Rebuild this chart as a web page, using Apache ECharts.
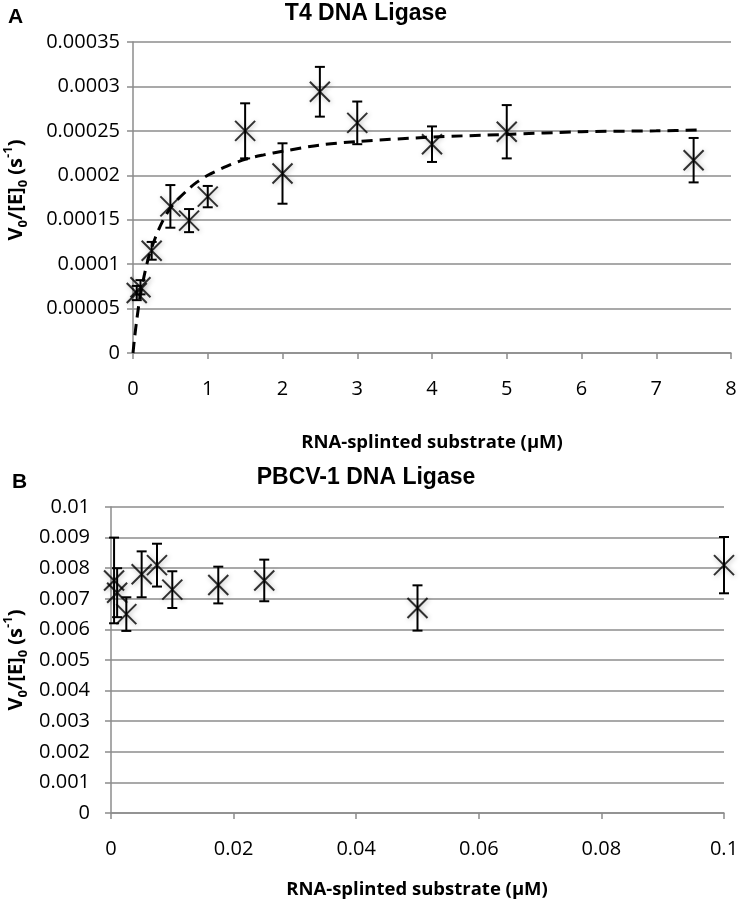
<!DOCTYPE html>
<html><head><meta charset="utf-8">
<script src="https://cdn.jsdelivr.net/npm/echarts@6/dist/echarts.min.js"></script>
<style>html,body{margin:0;padding:0;background:#fff;}#c{width:742px;height:906px;}</style>
</head><body><div id="c"></div>
<script>
// ---- Panel A: T4 DNA Ligase ----
const t4X   = [0.05, 0.1, 0.25, 0.5, 0.75, 1, 1.5, 2, 2.5, 3, 4, 5, 7.5];
const t4Y   = [0.0000675, 0.000074, 0.000115, 0.000165, 0.000149, 0.000176, 0.00025, 0.000202, 0.000294, 0.000259, 0.000235, 0.000249, 0.000217];
const t4Err = [0.000008, 0.000008, 0.00001, 0.000024, 0.000013, 0.000012, 0.000031, 0.000034, 0.000028, 0.000024, 0.00002, 0.00003, 0.000025];
// dashed fit curve
const t4FitX = [0, 0.02, 0.05, 0.1, 0.2, 0.3, 0.4, 0.5, 0.6, 0.75, 0.85, 1, 1.25, 1.5, 1.75, 2, 2.5, 3, 4, 5, 6, 7, 7.6];
const t4FitY = [0, 0.000016, 0.000037, 0.000066, 0.000105, 0.00013, 0.000149, 0.000163, 0.000173, 0.000185, 0.000192, 0.0002, 0.00021, 0.000218, 0.000223, 0.000227, 0.000234, 0.000238, 0.000243, 0.000246, 0.000249, 0.00025, 0.000251];
const t4XTicks = ['0','1','2','3','4','5','6','7','8'];
const t4YTicks = ['0','0.00005','0.0001','0.00015','0.0002','0.00025','0.0003','0.00035'];

// ---- Panel B: PBCV-1 DNA Ligase ----
const pbX   = [0.0005, 0.001, 0.0025, 0.005, 0.0075, 0.01, 0.0175, 0.025, 0.05, 0.1];
const pbY   = [0.0076, 0.0072, 0.0065, 0.0078, 0.0081, 0.0073, 0.00745, 0.0076, 0.0067, 0.0081];
const pbErr = [0.0014, 0.0008, 0.00055, 0.00075, 0.0007, 0.0006, 0.0006, 0.00068, 0.00074, 0.00092];
const pbXTicks = ['0','0.02','0.04','0.06','0.08','0.1'];
const pbYTicks = ['0','0.001','0.002','0.003','0.004','0.005','0.006','0.007','0.008','0.009','0.01'];

const titleA = 'T4 DNA Ligase';
const titleB = 'PBCV-1 DNA Ligase';
const xTitle = 'RNA-splinted substrate (µM)';

const GRID = '#8c8c8c';
const FONT = "'Open Sans', sans-serif";

function xAxisCfg(idx, max, step, ticks, margin) {
  return {
    type: 'value', gridIndex: idx, min: 0, max: max, interval: step,
    axisLine: {show: true, lineStyle: {color: GRID, width: 1.5}},
    axisTick: {show: true, length: 6, lineStyle: {color: GRID, width: 1.5}},
    splitLine: {show: false},
    axisLabel: {color: '#000', fontSize: 20, fontFamily: FONT, margin: margin,
      formatter: v => ticks[Math.round(v / step)]}
  };
}
function yAxisCfg(idx, max, step, ticks, margin) {
  return {
    type: 'value', gridIndex: idx, min: 0, max: max, interval: step,
    axisLine: {show: true, lineStyle: {color: GRID, width: 1.5}},
    axisTick: {show: true, length: 6, lineStyle: {color: GRID, width: 1.5}},
    splitLine: {show: true, lineStyle: {color: GRID, width: 1.5}},
    axisLabel: {color: '#000', fontSize: 20, fontFamily: FONT, margin: margin,
      formatter: v => ticks[Math.round(v / step)]}
  };
}

const markerStyle = {
  color: 'rgba(0,0,0,0)', borderColor: '#000', borderWidth: 2,
  shadowBlur: 5, shadowColor: 'rgba(0,0,0,0.35)', shadowOffsetX: 1, shadowOffsetY: 1
};

function errRender(params, api) {
  const x = api.value(0), y = api.value(1), e = api.value(2);
  const top = api.coord([x, y + e]);
  const bot = api.coord([x, y - e]);
  const w = 5;
  const st = {stroke: '#000', lineWidth: 2};
  return {type: 'group', children: [
    {type: 'line', shape: {x1: top[0], y1: top[1], x2: bot[0], y2: bot[1]}, style: st},
    {type: 'line', shape: {x1: top[0] - w, y1: top[1], x2: top[0] + w, y2: top[1]}, style: st},
    {type: 'line', shape: {x1: bot[0] - w, y1: bot[1], x2: bot[0] + w, y2: bot[1]}, style: st}
  ]};
}

const yTitleRich = {
  b: {fontSize: 20, fontWeight: 'bold', fontFamily: FONT, lineHeight: 28, verticalAlign: 'middle'},
  s: {fontSize: 13, fontWeight: 'bold', fontFamily: FONT, lineHeight: 14, verticalAlign: 'bottom'},
  p: {fontSize: 13, fontWeight: 'bold', fontFamily: FONT, lineHeight: 14, verticalAlign: 'top'}
};
const yTitleText = '{b|V}{s|0}{b|/[E]}{s|0}{b| (s}{p|-1}{b|)}';

const chart = echarts.init(document.getElementById('c'), null, {renderer: 'canvas'});
chart.setOption({
  animation: false,
  backgroundColor: '#fff',
  grid: [
    {left: 133, top: 42, width: 598, height: 311},
    {left: 111, top: 507, width: 613, height: 306}
  ],
  xAxis: [
    xAxisCfg(0, 8, 1, t4XTicks, 26),
    xAxisCfg(1, 0.1, 0.02, pbXTicks, 26)
  ],
  yAxis: [
    yAxisCfg(0, 0.00035, 0.00005, t4YTicks, 13),
    yAxisCfg(1, 0.01, 0.001, pbYTicks, 21)
  ],
  series: [
    {type: 'line', xAxisIndex: 0, yAxisIndex: 0, data: t4FitX.map((x, i) => [x, t4FitY[i]]),
      showSymbol: false, smooth: 0.3,
      lineStyle: {color: '#000', width: 3, type: [11, 7]}, z: 3},
    {type: 'custom', xAxisIndex: 0, yAxisIndex: 0, renderItem: errRender, clip: false,
      data: t4X.map((x, i) => [x, t4Y[i], t4Err[i]]), z: 4},
    {type: 'scatter', xAxisIndex: 0, yAxisIndex: 0, data: t4X.map((x, i) => [x, t4Y[i]]),
      symbol: 'path://M0,0L20,20M20,0L0,20', symbolSize: 20, itemStyle: markerStyle, clip: false, z: 5},
    {type: 'custom', xAxisIndex: 1, yAxisIndex: 1, renderItem: errRender, clip: false,
      data: pbX.map((x, i) => [x, pbY[i], pbErr[i]]), z: 4},
    {type: 'scatter', xAxisIndex: 1, yAxisIndex: 1, data: pbX.map((x, i) => [x, pbY[i]]),
      symbol: 'path://M0,0L20,20M20,0L0,20', symbolSize: 20, itemStyle: markerStyle, clip: false, z: 5}
  ],
  graphic: [
    {type: 'text', left: 8, top: 7, style: {text: 'A', font: "bold 21px 'Liberation Sans', Arial", fill: '#000'}},
    {type: 'text', left: 12, top: 472, style: {text: 'B', font: "bold 21px 'Liberation Sans', Arial", fill: '#000'}},
    {type: 'text', x: 366, y: 14, style: {text: titleA, font: "bold 23px 'Liberation Sans', Arial", fill: '#000', textAlign: 'center', textVerticalAlign: 'middle'}},
    {type: 'text', x: 366, y: 478, style: {text: titleB, font: "bold 23px 'Liberation Sans', Arial", fill: '#000', textAlign: 'center', textVerticalAlign: 'middle'}},
    {type: 'text', x: 432, y: 443, style: {text: xTitle, font: "bold 18.5px " + FONT, fill: '#000', textAlign: 'center', textVerticalAlign: 'middle'}},
    {type: 'text', x: 417, y: 890, style: {text: xTitle, font: "bold 18.5px " + FONT, fill: '#000', textAlign: 'center', textVerticalAlign: 'middle'}},
    {type: 'text', x: 16, y: 190, rotation: Math.PI / 2,
      style: {text: yTitleText, rich: yTitleRich, fill: '#000', align: 'center', verticalAlign: 'middle'}},
    {type: 'text', x: 16, y: 660, rotation: Math.PI / 2,
      style: {text: yTitleText, rich: yTitleRich, fill: '#000', align: 'center', verticalAlign: 'middle'}}
  ]
});
</script></body></html>
